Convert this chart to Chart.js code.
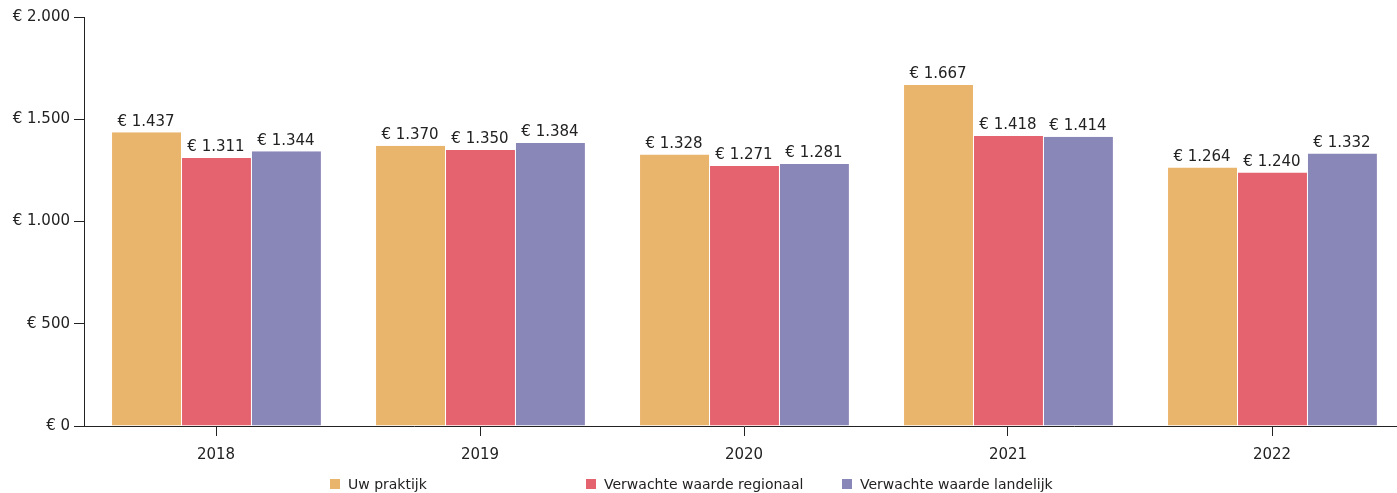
<!DOCTYPE html>
<html>
<head>
<meta charset="utf-8">
<script src="https://cdn.jsdelivr.net/npm/chart.js@4/dist/chart.umd.min.js"></script>
<style>
  html, body { margin: 0; padding: 0; background: #fff; overflow: hidden; width: 1397px; height: 493px; }
  #wrap { position: absolute; left: 0; top: 0; width: 1404px; height: 482px; }
  #legend { position: absolute; left: 330px; top: 476px; display: flex; font-family: "DejaVu Sans", sans-serif; font-size: 14px; color: #222; }
  #legend .item { display: flex; align-items: center; width: 256px; white-space: nowrap; }
  #legend .box { width: 10px; height: 10px; margin-right: 8px; }
</style>
</head>
<body>
<div id="wrap"><canvas id="kosten"></canvas></div>
<div id="legend"></div>
<script>
const years = ['2018', '2019', '2020', '2021', '2022'];
const uwPraktijk = [1437, 1370, 1328, 1667, 1264];
const regionaal = [1311, 1350, 1271, 1418, 1240];
const landelijk = [1344, 1384, 1281, 1414, 1332];
const yTicks = [0, 500, 1000, 1500, 2000];

const seriesNames = ['Uw praktijk', 'Verwachte waarde regionaal', 'Verwachte waarde landelijk'];
const seriesColors = ['#e9b46b', '#e5636e', '#8987b8'];

// 1437 -> "€ 1.437"
function euro(v) {
    return '€ ' + String(Math.round(v)).replace(/\B(?=(\d{3})+(?!\d))/g, '.');
}

const font = { family: '"DejaVu Sans", sans-serif', size: 15 };

// Waarde boven elke staaf
const valueLabels = {
    id: 'valueLabels',
    afterDatasetsDraw(chart) {
        const ctx = chart.ctx;
        ctx.save();
        ctx.font = font.size + 'px ' + font.family;
        ctx.fillStyle = '#222';
        ctx.textAlign = 'center';
        ctx.textBaseline = 'bottom';
        chart.data.datasets.forEach(function(ds, i) {
            chart.getDatasetMeta(i).data.forEach(function(bar, j) {
                ctx.fillText(euro(ds.data[j]), bar.x, bar.y - 3);
            });
        });
        ctx.restore();
    }
};

const ctx = document.getElementById('kosten').getContext('2d');
const chart = new Chart(ctx, {
    type: 'bar',
    data: {
        labels: years,
        datasets: [uwPraktijk, regionaal, landelijk].map(function(d, i) {
            return {
                label: seriesNames[i],
                data: d,
                backgroundColor: seriesColors[i],
                borderColor: '#fff',
                borderWidth: { left: 1, right: 0, top: 0, bottom: 0 },
                borderSkipped: false,
                categoryPercentage: 0.795,
                barPercentage: 1
            };
        })
    },
    options: {
        responsive: true,
        maintainAspectRatio: false,
        animation: false,
        layout: { padding: { top: 17, right: 0, bottom: 8, left: 0 } },
        plugins: {
            legend: { display: false },
            tooltip: { enabled: false }
        },
        scales: {
            x: {
                grid: { display: true, offset: false, drawOnChartArea: false, drawTicks: true, tickLength: 10, color: '#222' },
                border: { display: true, color: '#222', width: 1 },
                ticks: { color: '#222', font: font, padding: 10, maxRotation: 0 }
            },
            y: {
                min: 0,
                max: 2000,
                afterBuildTicks: function(scale) {
                    scale.ticks = yTicks.map(function(v) { return { value: v }; });
                },
                afterFit: function(scale) { scale.width = 84; },
                grid: { display: true, drawOnChartArea: false, drawTicks: true, tickLength: 10, color: '#222' },
                border: { display: true, color: '#222', width: 1 },
                ticks: { color: '#222', font: font, padding: 4, callback: function(v) { return euro(v); } }
            }
        }
    },
    plugins: [valueLabels]
});

// Legenda in vaste kolommen
const legend = document.getElementById('legend');
chart.data.datasets.forEach(function(ds) {
    const item = document.createElement('div');
    item.className = 'item';
    const box = document.createElement('span');
    box.className = 'box';
    box.style.background = ds.backgroundColor;
    item.appendChild(box);
    item.appendChild(document.createTextNode(ds.label));
    legend.appendChild(item);
});
</script>
</body>
</html>
